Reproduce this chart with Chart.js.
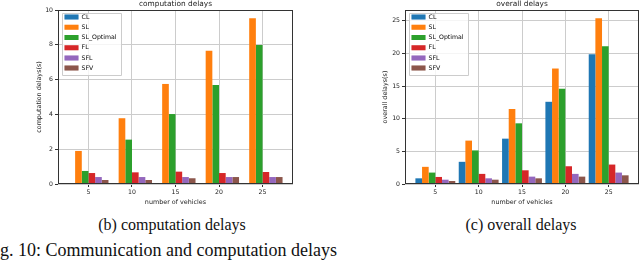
<!DOCTYPE html>
<html>
<head>
  <title>Computation and overall delays</title>
  <script src="https://cdn.jsdelivr.net/npm/chart.js"></script>
  <style>
    body { margin: 0; width: 640px; height: 267px; overflow: hidden; background: #fff; position: relative; }
    canvas { position: absolute; top: 0; }
    .cap { position: absolute; font-family: 'Liberation Serif', 'Times New Roman', serif; line-height: 1; white-space: nowrap; color: #111; }
  </style>
</head>
<body>
  <canvas id="comp-chart" width="320" height="212" style="left:0"></canvas>
  <canvas id="overall-chart" width="300" height="212" style="left:340px"></canvas>
  <div class="cap" style="left:22px; width:300px; text-align:center; top:216.6px; font-size:16px">(b) computation delays</div>
  <div class="cap" style="left:371px; width:300px; text-align:center; top:216.6px; font-size:16px">(c) overall delays</div>
  <div class="cap" style="left:-15px; top:241px; font-size:18px">Fig. 10: Communication and computation delays</div>
  <script>
    // number of vehicles (x categories)
    const vehicles = [5, 10, 15, 20, 25];
    const seriesNames = ['CL', 'SL', 'SL_Optimal', 'FL', 'SFL', 'SFV'];

    // computation delays (s)
    const compCL = [0, 0, 0, 0, 0];
    const compSL = [1.9, 3.78, 5.75, 7.66, 9.52];
    const compSLOpt = [0.75, 2.55, 4.02, 5.69, 7.99];
    const compFL = [0.63, 0.67, 0.71, 0.63, 0.69];
    const compSFL = [0.4, 0.4, 0.4, 0.4, 0.4];
    const compSFV = [0.23, 0.23, 0.33, 0.4, 0.4];

    // overall delays (s)
    const allCL = [0.87, 3.4, 6.95, 12.6, 19.9];
    const allSL = [2.63, 6.65, 11.5, 17.7, 25.4];
    const allSLOpt = [1.75, 5.15, 9.3, 14.6, 21.1];
    const allFL = [1.08, 1.55, 2.1, 2.72, 2.98];
    const allSFL = [0.66, 0.87, 1.13, 1.55, 1.75];
    const allSFV = [0.46, 0.66, 0.87, 1.13, 1.33];

    // tick labels
    const xTicks = [5, 10, 15, 20, 25];
    const compTicks = [0, 2, 4, 6, 8, 10];
    const allTicks = [0, 5, 10, 15, 20, 25];

    const colors = ['#1f77b4', '#ff7f0e', '#2ca02c', '#d62728', '#9467bd', '#8c564b'];
    const font = 'DejaVu Sans';
    const textColor = '#222';
    const legendFont = 6.2;
    const legendBox = 14;
    const legendPad = 4;
    const legendShift = 2.5;

    // legend frame + spines, drawn like matplotlib
    const framePlugin = {
      id: 'frame',
      afterLayout(chart) {
        const a = chart.chartArea;
        chart.legend.left = a.left + legendShift;
        chart.legend.top = a.top;
        chart.legend.bottom = a.bottom;
      },
      afterDatasetsDraw(chart) {
        const ctx = chart.ctx;
        const a = chart.chartArea;
        const lg = chart.legend;
        ctx.save();
        ctx.font = legendFont + 'px "' + font + '"';
        let maxW = 0;
        seriesNames.forEach(n => { maxW = Math.max(maxW, ctx.measureText(n).width); });
        const x0 = lg.left + legendPad - 3;
        const x1 = lg.left + legendPad + legendBox + legendFont / 2 + maxW + 3.5;
        const y0 = a.top + 3;
        const y1 = a.top + seriesNames.length * (legendFont + legendPad) + 3.8;
        ctx.beginPath();
        ctx.rect(Math.round(x0) + 0.5, Math.round(y0) + 0.5, Math.round(x1 - x0), Math.round(y1 - y0));
        ctx.fillStyle = 'rgba(255,255,255,0.8)';
        ctx.fill();
        ctx.strokeStyle = '#cccccc';
        ctx.lineWidth = 1;
        ctx.stroke();
        ctx.restore();
        lg.draw();

        ctx.save();
        ctx.strokeStyle = '#333';
        ctx.lineWidth = 1;
        ctx.strokeRect(Math.round(a.left) + 0.5, Math.round(a.top) + 0.5,
          Math.round(a.right - a.left) - 1, Math.round(a.bottom - a.top) - 1);
        ctx.restore();
      }
    };

    function makeChart(id, title, yTitle, series, yTicks, yMax, yAxisWidth, yTitlePad, rightPad) {
      const ctx = document.getElementById(id).getContext('2d');
      return new Chart(ctx, {
        type: 'bar',
        data: {
          labels: vehicles,
          datasets: series.map((d, i) => ({
            label: seriesNames[i],
            data: d,
            backgroundColor: colors[i],
            borderWidth: 0,
            categoryPercentage: 0.92,
            barPercentage: 1.0,
          })),
        },
        plugins: [framePlugin],
        options: {
          responsive: false,
          animation: false,
          devicePixelRatio: 1,
          layout: { padding: { left: 0, right: rightPad, top: 0, bottom: 0 } },
          plugins: {
            title: {
              display: true,
              text: title,
              fullSize: false,
              color: textColor,
              font: { family: font, size: 7.4, weight: 'normal', lineHeight: 1.2 },
              padding: { top: 0, bottom: 1.12 },
            },
            legend: {
              position: 'chartArea',
              align: 'start',
              labels: {
                boxWidth: legendBox,
                boxHeight: 5,
                padding: legendPad,
                color: textColor,
                font: { family: font, size: legendFont },
              },
            },
            tooltip: { enabled: false },
          },
          scales: {
            x: {
              type: 'linear',
              offset: false,
              min: 1.5,
              max: 28.5,
              afterBuildTicks: s => { s.ticks = xTicks.map(v => ({ value: v })); },
              afterFit: s => { s.height = 28; },
              grid: { color: '#cccccc', lineWidth: 1, tickLength: 3, tickColor: '#333', offset: false },
              border: { display: false },
              ticks: { color: textColor, font: { family: font, size: 6.2 }, padding: 2, maxRotation: 0 },
              title: {
                display: true,
                text: 'number of vehicles',
                color: textColor,
                font: { family: font, size: 6.4, lineHeight: 1.2 },
                padding: { top: 0, bottom: 6.16 },
              },
            },
            y: {
              min: 0,
              max: yMax,
              afterBuildTicks: s => { s.ticks = yTicks.map(v => ({ value: v })); },
              afterFit: s => { s.width = yAxisWidth; },
              grid: { color: '#cccccc', lineWidth: 1, tickLength: 3, tickColor: '#333' },
              border: { display: false },
              ticks: { color: textColor, font: { family: font, size: 6.2 }, padding: 2 },
              title: {
                display: true,
                text: yTitle,
                color: textColor,
                font: { family: font, size: 6.4, lineHeight: 1.2 },
                padding: { top: yTitlePad, bottom: 0 },
              },
            },
          },
        },
      });
    }

    makeChart('comp-chart', 'computation delays', 'computation delays(s)',
      [compCL, compSL, compSLOpt, compFL, compSFL, compSFV], compTicks, 10, 58, 35.2, 27);
    makeChart('overall-chart', 'overall delays', 'overall delays(s)',
      [allCL, allSL, allSLOpt, allFL, allSFL, allSFV], allTicks, 26.67, 65, 41.2, 1);
  </script>
</body>
</html>
